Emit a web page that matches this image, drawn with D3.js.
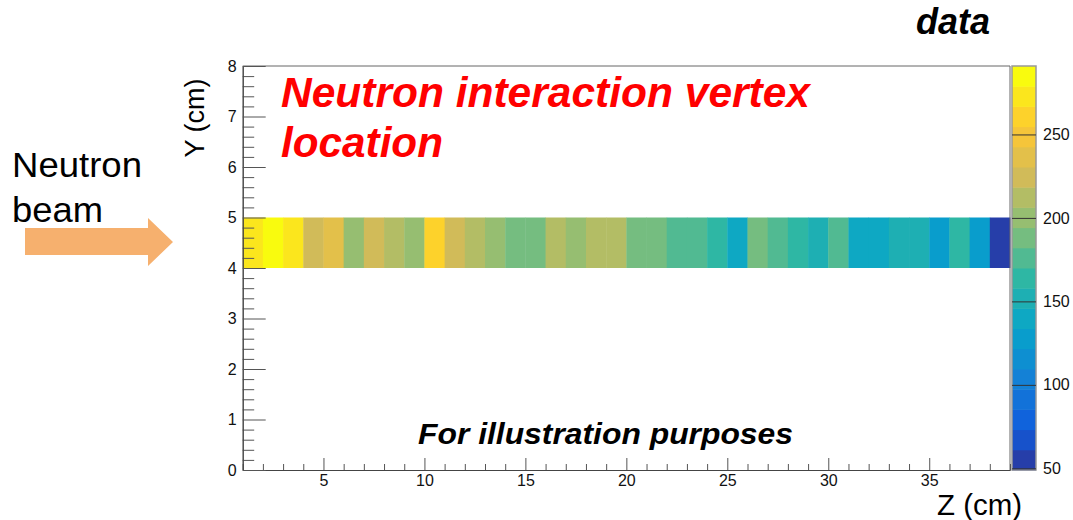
<!DOCTYPE html>
<html>
<head>
<meta charset="utf-8">
<style>
    body { margin: 0; background: white; }
    svg { display: block; font-family: "Liberation Sans", Arial, Helvetica, sans-serif; }
</style>
</head>
<body>
    <svg width="1073" height="520"></svg>
    <script src="https://d3js.org/d3.v7.min.js"></script>
    <script>
        // Z bins (cm), one entry per bin lower edge, width 1 cm
        const zBins = [1, 2, 3, 4, 5, 6, 7, 8, 9, 10, 11, 12, 13, 14, 15, 16, 17, 18, 19, 20,
            21, 22, 23, 24, 25, 26, 27, 28, 29, 30, 31, 32, 33, 34, 35, 36, 37, 38];
        // entries per Z bin in the Y slice 4-5 cm
        const counts = [270, 286, 273, 224, 236, 200, 224, 212, 200, 261, 224, 212, 200, 188, 188, 212, 200, 212, 212, 188,
            188, 176, 176, 164, 140, 188, 176, 164, 152, 176, 140, 140, 152, 152, 128, 164, 128, 55];
        const yBin = [4, 5];
        const xTicks = [5, 10, 15, 20, 25, 30, 35];
        const yTicks = [0, 1, 2, 3, 4, 5, 6, 7, 8];
        const zTicks = [50, 100, 150, 200, 250];
        const zRange = [49, 291];
        const nLevels = 20;

        // ROOT kBird palette stops
        const birdStops = [0, 0.125, 0.25, 0.375, 0.5, 0.625, 0.75, 0.875, 1];
        const birdColors = ["#352a87", "#0f5cdd", "#1481d6", "#06a4ca", "#2eb7a4", "#87bf77", "#d1bb59", "#fec832", "#f9fb0e"];

        const svg = d3.select("svg");
        const frame = { left: 242.7, right: 1010, top: 66, bottom: 470 };
        const font = '"Liberation Sans", Arial, Helvetica, sans-serif';

        const x = d3.scaleLinear().domain([1, 39]).range([frame.left, frame.right]);
        const y = d3.scaleLinear().domain([0, 8]).range([frame.bottom, frame.top]);
        const bird = d3.scaleLinear().domain(birdStops).range(birdColors).interpolate(d3.interpolateRgb);
        const levelWidth = (zRange[1] - zRange[0]) / nLevels;
        const levelOf = v => Math.max(0, Math.min(nLevels - 1, Math.floor((v - zRange[0]) / levelWidth)));
        const levelColor = i => bird((i + 0.99) / nLevels);

        // cells
        svg.append("g").selectAll("rect")
            .data(zBins)
            .enter().append("rect")
            .attr("x", (d) => x(d))
            .attr("width", (d) => x(d + 1) - x(d) + 0.4)
            .attr("y", y(yBin[1]))
            .attr("height", y(yBin[0]) - y(yBin[1]))
            .attr("fill", (d, i) => levelColor(levelOf(counts[i])));

        // frame top and right
        svg.append("path")
            .attr("d", `M${frame.left},${frame.top}H${frame.right}V${frame.bottom}`)
            .attr("fill", "none")
            .attr("stroke", "#666")
            .attr("stroke-width", 1);

        // x axis
        const xAxis = svg.append("g").attr("transform", `translate(0,${frame.bottom})`);
        xAxis.call(d3.axisBottom(x).tickValues(d3.range(1, 40).filter(v => v % 5 != 0)).tickSizeInner(-6).tickSizeOuter(0).tickFormat(""));
        xAxis.call(g => g.append("g").call(d3.axisBottom(x).tickValues(xTicks).tickSizeInner(-12).tickSizeOuter(0).tickPadding(5)));
        xAxis.selectAll("text").attr("font-size", 16).attr("fill", "#111").attr("font-family", font);

        // y axis
        const yAxis = svg.append("g").attr("transform", `translate(${frame.left},0)`);
        yAxis.call(d3.axisLeft(y).tickValues(d3.range(0, 8.01, 0.2).filter(v => Math.abs(v - Math.round(v)) > 0.01)).tickSizeInner(-11.5).tickSizeOuter(0).tickFormat(""));
        yAxis.call(g => g.append("g").call(d3.axisLeft(y).tickValues(yTicks).tickSizeInner(-23).tickSizeOuter(0).tickPadding(6)));
        yAxis.selectAll("text").attr("font-size", 16).attr("fill", "#111").attr("font-family", font);
        svg.selectAll(".domain").attr("stroke", "#444");
        svg.selectAll(".tick line").attr("stroke", "#555");

        // colour bar
        const zb = { left: 1012, right: 1036 };
        const z = d3.scaleLinear().domain(zRange).range([frame.bottom, frame.top]);
        svg.append("g").selectAll("rect")
            .data(d3.range(nLevels))
            .enter().append("rect")
            .attr("x", zb.left)
            .attr("width", zb.right - zb.left)
            .attr("y", d => z(zRange[0] + (d + 1) * levelWidth))
            .attr("height", d => z(zRange[0] + d * levelWidth) - z(zRange[0] + (d + 1) * levelWidth) + 0.5)
            .attr("fill", d => levelColor(d));
        svg.append("rect")
            .attr("x", zb.left).attr("y", frame.top)
            .attr("width", zb.right - zb.left).attr("height", frame.bottom - frame.top)
            .attr("fill", "none").attr("stroke", "#999").attr("stroke-width", 1.5);
        const zAxis = svg.append("g").attr("transform", `translate(${zb.right},0)`);
        zAxis.call(d3.axisRight(z).tickValues(zTicks).tickSizeInner(-(zb.right - zb.left)).tickSizeOuter(0).tickPadding(7));
        zAxis.select(".domain").remove();
        zAxis.selectAll(".tick line").attr("stroke", "#333");
        zAxis.selectAll("text").attr("font-size", 16).attr("fill", "#111").attr("font-family", font);

        // axis titles
        svg.append("text")
            .attr("transform", "translate(204,118) rotate(-90)")
            .attr("text-anchor", "middle")
            .attr("font-size", 27)
            .text("Y (cm)");
        svg.append("text")
            .attr("x", 1022).attr("y", 515)
            .attr("text-anchor", "end")
            .attr("font-size", 30)
            .attr("textLength", 85).attr("lengthAdjust", "spacingAndGlyphs")
            .text("Z (cm)");

        // titles and notes
        svg.append("text")
            .attr("x", 916).attr("y", 34)
            .attr("font-size", 36).attr("font-weight", "bold").attr("font-style", "italic")
            .attr("textLength", 74).attr("lengthAdjust", "spacingAndGlyphs")
            .text("data");
        const red = svg.append("g")
            .attr("fill", "#ff0000").attr("font-size", 42).attr("font-weight", "bold").attr("font-style", "italic");
        red.append("text").attr("x", 281).attr("y", 107)
            .attr("textLength", 529).attr("lengthAdjust", "spacingAndGlyphs")
            .text("Neutron interaction vertex");
        red.append("text").attr("x", 281).attr("y", 157)
            .attr("textLength", 162).attr("lengthAdjust", "spacingAndGlyphs")
            .text("location");
        svg.append("text")
            .attr("x", 418).attr("y", 444)
            .attr("font-size", 30).attr("font-weight", "bold").attr("font-style", "italic")
            .attr("textLength", 375).attr("lengthAdjust", "spacingAndGlyphs")
            .text("For illustration purposes");

        // beam label and arrow
        svg.append("text").attr("x", 12).attr("y", 177).attr("font-size", 35)
            .attr("textLength", 130).attr("lengthAdjust", "spacingAndGlyphs")
            .text("Neutron");
        svg.append("text").attr("x", 12).attr("y", 222).attr("font-size", 35)
            .attr("textLength", 91).attr("lengthAdjust", "spacingAndGlyphs")
            .text("beam");
        svg.append("path")
            .attr("d", "M25,228H148V218L173,242L148,266V255H25Z")
            .attr("fill", "#f6b06e");
    </script>
</body>
</html>
